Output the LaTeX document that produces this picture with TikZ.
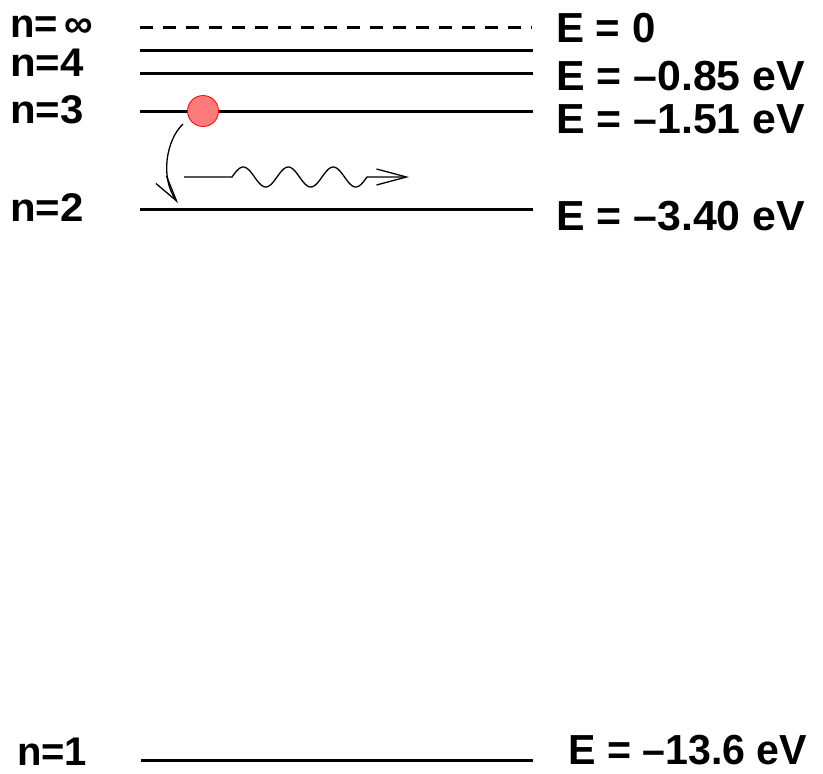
\documentclass[tikz,border=0pt]{standalone}
\usepackage{fontspec}
\setmainfont{Liberation Sans}
\usetikzlibrary{arrows.meta}
\newcommand{\leftlab}[2]{\scalebox{#1}[1]{\fontsize{40}{40}\selectfont\bfseries #2}}
\newcommand{\rightlab}[2]{\scalebox{#1}[1]{\fontsize{42}{42}\selectfont\bfseries #2}}
\begin{document}
\begin{tikzpicture}[x=1pt,y=-1pt,
  level/.style={line width=3pt},
  lab/.style={inner sep=0pt, anchor=west},
  thinarrow/.style={line width=1.3pt},
  electron/.style={circle, draw=red, fill=red!52!white, line width=0.8pt, minimum size=31pt, inner sep=0pt}]
\useasboundingbox (0,0) rectangle (823,774);
% levels
\draw[level, dash pattern=on 13pt off 10pt] (140,27) -- (532,27);
\draw[level] (140,50) -- (533,50);
\draw[level] (140,73) -- (533,73);
\draw[level] (140,111) -- (533,111);
\draw[level] (140,209) -- (533,209);
\draw[level] (141,760) -- (533,760);
% left labels
\node[lab] (ninf) at (10,27) {\leftlab{1.0}{n=\,∞}};
\node[lab] (n4) at (10,63) {\leftlab{1.05}{n=4}};
\node[lab] (n3) at (10,110) {\leftlab{1.05}{n=3}};
\node[lab] (n2) at (10,208) {\leftlab{1.05}{n=2}};
\node[lab] (n1) at (17,752) {\leftlab{1.0}{n=1}};
% right labels
\node[lab] (e0) at (556,28) {\rightlab{1.0}{E = 0}};
\node[lab] (e4) at (556,76) {\rightlab{1.02}{E = –0.85 eV}};
\node[lab] (e3) at (556,119) {\rightlab{1.02}{E = –1.51 eV}};
\node[lab] (e2) at (556,216) {\rightlab{1.02}{E = –3.40 eV}};
\node[lab] (e1) at (568,750) {\rightlab{0.98}{E = –13.6 eV}};
% electron
\node[electron] (el) at (203,111) {};
\coordinate (a1) at (183,124);
\coordinate (a2) at (178,203);
\draw[thinarrow, -{Straight Barb[length=26pt,width=13pt]}] (a1) .. controls (166,140) and (160,178) .. (a2);
% photon
\coordinate (w0) at (184,177);
\coordinate (w1) at (232,177);
\coordinate (w2) at (409,177);
\draw[thinarrow, line join=round, -{Straight Barb[length=30pt,width=16pt]}] (w0) -- (w1) -- plot[domain=232:367, samples=90, smooth] (\x, {177-10*sin((\x-232)*8)}) -- (w2);
\end{tikzpicture}
\end{document}
